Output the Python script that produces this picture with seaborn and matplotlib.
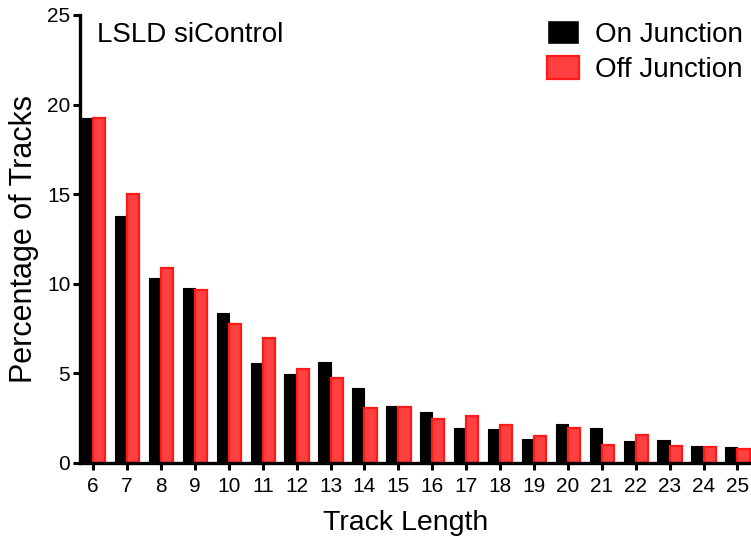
import matplotlib
matplotlib.use("Agg")
import matplotlib.pyplot as plt
import seaborn as sns
import pandas as pd

track_length = [str(v) for v in range(6, 26)]
on_junction = [19.27, 13.8, 10.34, 9.74, 8.35, 5.59, 4.94, 5.61, 4.21, 3.2,
               2.87, 1.96, 1.88, 1.34, 2.16, 1.96, 1.21, 1.28, 0.95, 0.89]
off_junction = [19.27, 15.03, 10.9, 9.67, 7.75, 7.0, 5.22, 4.75, 3.09, 3.15,
                2.48, 2.63, 2.14, 1.49, 1.96, 1.03, 1.56, 0.95, 0.89, 0.77]
series_names = ["On Junction", "Off Junction"]

df = pd.DataFrame({
    "Track Length": track_length * 2,
    "Percentage": on_junction + off_junction,
    "Series": [series_names[0]] * len(track_length) + [series_names[1]] * len(track_length),
})

sns.set_style("ticks", {"text.color": "black", "axes.labelcolor": "black",
                        "xtick.color": "black", "ytick.color": "black",
                        "axes.edgecolor": "black"})
plt.rcParams["font.family"] = ["Liberation Sans", "DejaVu Sans"]

fig = plt.figure(figsize=(7.51, 5.5), dpi=100)
ax = fig.add_axes([80 / 751, 1 - 463 / 550, 1 - 80 / 751, (463 - 15) / 550])

palette = {"On Junction": "#000000", "Off Junction": "#ff4040"}
sns.barplot(data=df, x="Track Length", y="Percentage", hue="Series",
            order=track_length, hue_order=series_names, palette=palette,
            width=0.72, gap=0, ax=ax, saturation=1, errorbar=None)

for patch in ax.containers[0]:
    patch.set_edgecolor("#000000")
    patch.set_linewidth(0.8)
    patch.set_joinstyle("round")
for patch in ax.containers[1]:
    patch.set_edgecolor("#ff1a1a")
    patch.set_linewidth(1.6)

ax.set_xlim(-0.39, 19.4)
ax.set_ylim(0, 25)
ax.set_yticks([0, 5, 10, 15, 20, 25])
ax.set_xlabel("Track Length", fontsize=20.5, color="black")
ax.xaxis.set_label_coords((406 - 80) / (751 - 80), -(523 - 463) / 448, transform=ax.transAxes)
ax.xaxis.label.set_va("center")
ax.set_ylabel("Percentage of Tracks", fontsize=22, labelpad=6, color="black")
ax.tick_params(axis="both", labelsize=15, width=2.2, length=4, color="black",
               labelcolor="black", pad=3)
ax.tick_params(axis="y", length=5, pad=2)
ax.tick_params(axis="x", length=5, pad=5)
for side in ["top", "right"]:
    ax.spines[side].set_visible(False)
for side in ["left", "bottom"]:
    ax.spines[side].set_linewidth(2.4)
    ax.spines[side].set_color("black")

handles, labels = ax.get_legend_handles_labels()
if ax.get_legend() is not None:
    ax.get_legend().remove()
handles[1].set_edgecolor("#ff1a1a")
handles[1].set_linewidth(1.6)
leg = ax.legend(handles, labels, loc="upper right", bbox_to_anchor=(1.012, 1.025),
                frameon=False, fontsize=20, handlelength=1.15, handleheight=0.9,
                handletextpad=0.55, labelspacing=0.3, borderaxespad=0.2)
for t in leg.get_texts():
    t.set_color("black")

fig.text(97 / 751, 1 - 42 / 550, "LSLD siControl", fontsize=20, va="baseline",
         ha="left", color="black")

fig.savefig("out.png", dpi=100)
